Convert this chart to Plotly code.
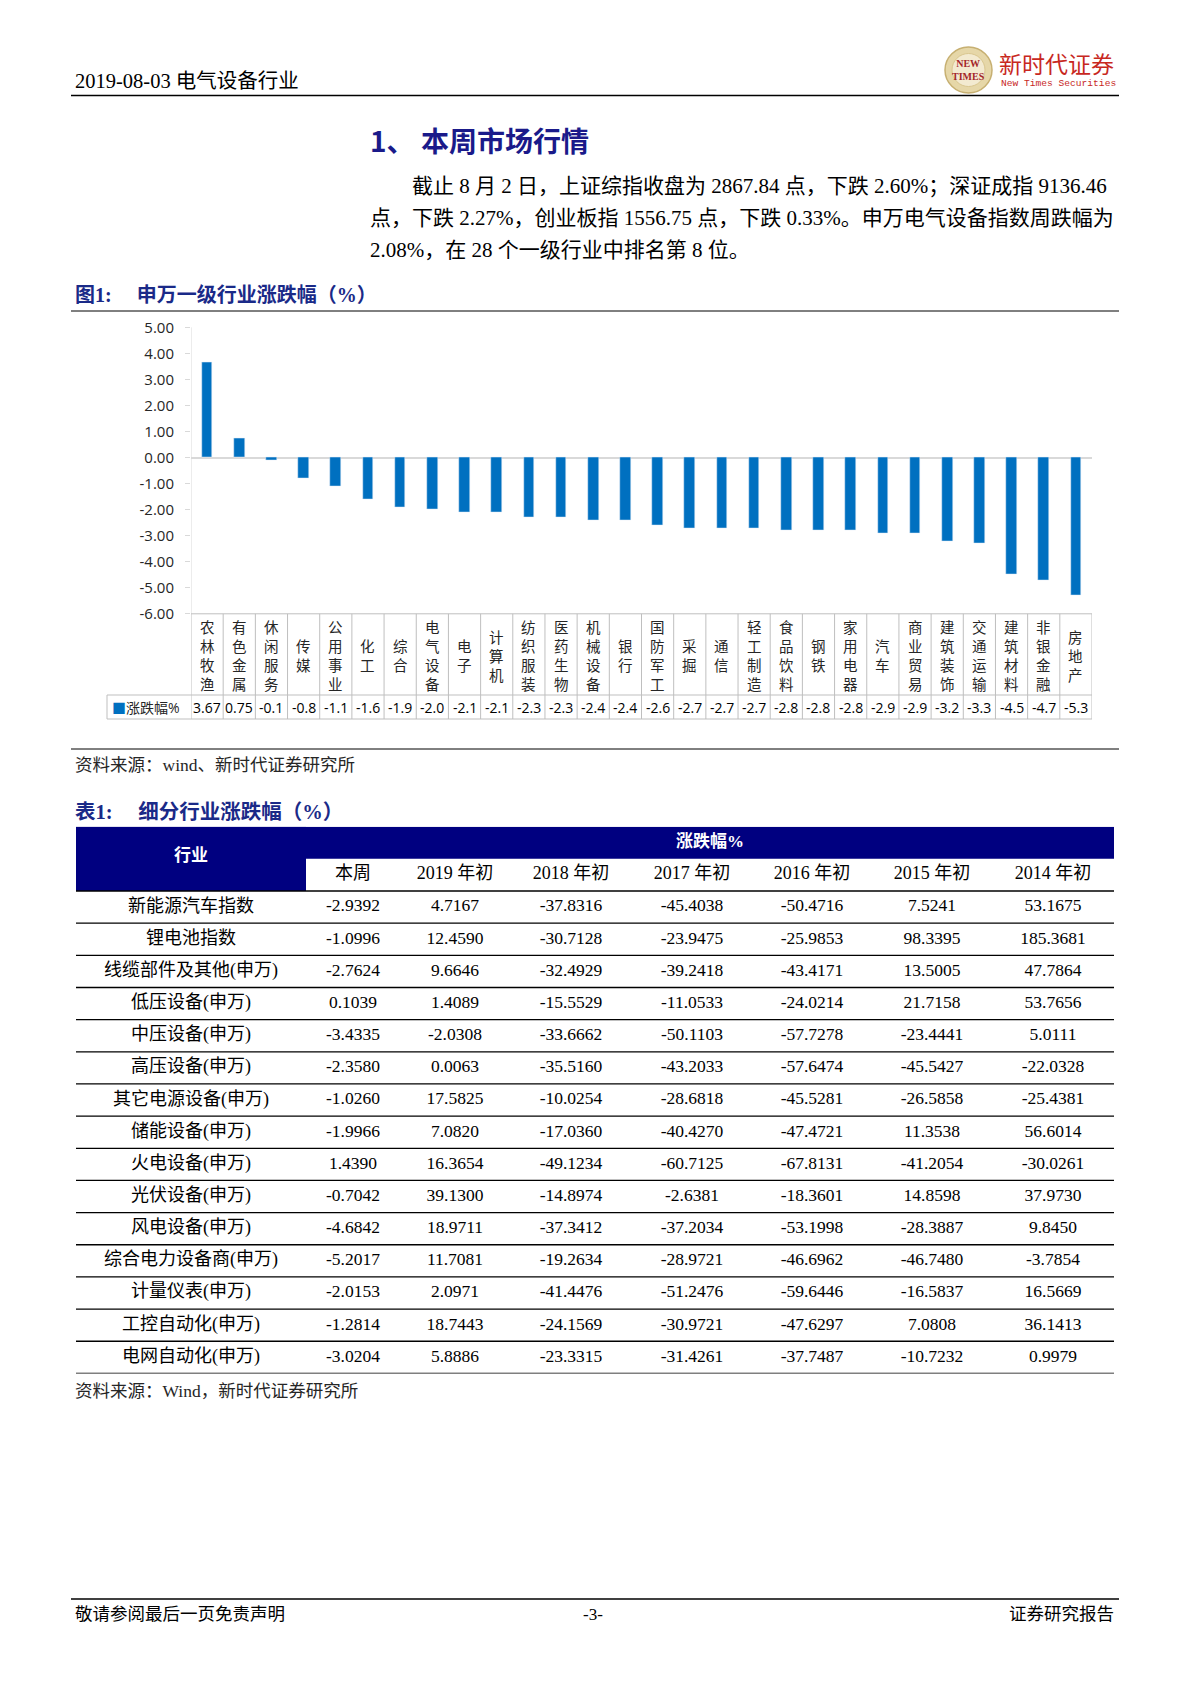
import plotly.graph_objects as go

W, H = 1190, 1683


def px(x):
    return x / W


def py(y):
    return 1 - y / H


# ---------------- data ----------------
categories = ["农林牧渔", "有色金属", "休闲服务", "传媒", "公用事业", "化工", "综合", "电气设备",
              "电子", "计算机", "纺织服装", "医药生物", "机械设备", "银行", "国防军工", "采掘",
              "通信", "轻工制造", "食品饮料", "钢铁", "家用电器", "汽车", "商业贸易", "建筑装饰",
              "交通运输", "建筑材料", "非银金融", "房地产"]
changes = [3.67, 0.75, -0.1, -0.8, -1.1, -1.6, -1.9, -2.0, -2.1, -2.1, -2.3, -2.3, -2.4, -2.4,
           -2.6, -2.7, -2.7, -2.7, -2.8, -2.8, -2.8, -2.9, -2.9, -3.2, -3.3, -4.5, -4.7, -5.3]
y_tick_values = [5, 4, 3, 2, 1, 0, -1, -2, -3, -4, -5, -6]
series_name = "涨跌幅%"

industries = ["新能源汽车指数", "锂电池指数", "线缆部件及其他(申万)", "低压设备(申万)", "中压设备(申万)",
              "高压设备(申万)", "其它电源设备(申万)", "储能设备(申万)", "火电设备(申万)", "光伏设备(申万)",
              "风电设备(申万)", "综合电力设备商(申万)", "计量仪表(申万)", "工控自动化(申万)", "电网自动化(申万)"]
period_headers = ["本周", "2019 年初", "2018 年初", "2017 年初", "2016 年初", "2015 年初", "2014 年初"]
chg_week = [-2.9392, -1.0996, -2.7624, 0.1039, -3.4335, -2.3580, -1.0260, -1.9966, 1.4390, -0.7042,
            -4.6842, -5.2017, -2.0153, -1.2814, -3.0204]
chg_2019 = [4.7167, 12.4590, 9.6646, 1.4089, -2.0308, 0.0063, 17.5825, 7.0820, 16.3654, 39.1300,
            18.9711, 11.7081, 2.0971, 18.7443, 5.8886]
chg_2018 = [-37.8316, -30.7128, -32.4929, -15.5529, -33.6662, -35.5160, -10.0254, -17.0360, -49.1234,
            -14.8974, -37.3412, -19.2634, -41.4476, -24.1569, -23.3315]
chg_2017 = [-45.4038, -23.9475, -39.2418, -11.0533, -50.1103, -43.2033, -28.6818, -40.4270, -60.7125,
            -2.6381, -37.2034, -28.9721, -51.2476, -30.9721, -31.4261]
chg_2016 = [-50.4716, -25.9853, -43.4171, -24.0214, -57.7278, -57.6474, -45.5281, -47.4721, -67.8131,
            -18.3601, -53.1998, -46.6962, -59.6446, -47.6297, -37.7487]
chg_2015 = [7.5241, 98.3395, 13.5005, 21.7158, -23.4441, -45.5427, -26.5858, 11.3538, -41.2054,
            14.8598, -28.3887, -46.7480, -16.5837, 7.0808, -10.7232]
chg_2014 = [53.1675, 185.3681, 47.7864, 53.7656, 5.0111, -22.0328, -25.4381, 56.6014, -30.0261,
            37.9730, 9.8450, -3.7854, 16.5669, 36.1413, 0.9979]
period_columns = [chg_week, chg_2019, chg_2018, chg_2017, chg_2016, chg_2015, chg_2014]

# ---------------- styles ----------------
SERIF = "Liberation Serif, 'Noto Sans CJK SC', serif"
CJK = "'Noto Sans CJK SC', sans-serif"
NAVY = "#000080"
TITLE_BLUE = "#1A2A88"
BAR_BLUE = "#0070C0"
GRID = "#BFBFBF"
RED = "#C8281E"

fig = go.Figure()

# ---------------- bar chart ----------------
plot_left, plot_right = 191, 1092
plot_top, plot_bottom = 327.3, 613.8
table_mid, table_bottom = 695, 719
legend_left = 107

fig.add_trace(go.Bar(x=categories, y=changes, marker_color=BAR_BLUE, width=0.33,
                     name=series_name, showlegend=False, xaxis="x", yaxis="y"))

annotations = []
shapes = []

# category labels (vertical stacked characters)
cat_center = (plot_bottom + table_mid) / 2 + 1
for cat in categories:
    annotations.append(dict(x=cat, y=py(cat_center), xref="x", yref="paper", text="<br>".join(cat),
                            showarrow=False, font=dict(family=CJK, size=14.5, color="#262626"),
                            xanchor="center", yanchor="middle"))
# value row
for cat, v in zip(categories, changes):
    annotations.append(dict(x=cat, y=py((table_mid + table_bottom) / 2), xref="x", yref="paper",
                            text=str(v), showarrow=False,
                            font=dict(family="'Open Sans', sans-serif", size=14, color="#000000"),
                            xanchor="center", yanchor="middle"))
annotations.append(dict(x=px(legend_left + 3), y=py((table_mid + table_bottom) / 2), xref="paper",
                        yref="paper", xanchor="left", yanchor="middle", showarrow=False,
                        text=f"<span style='color:{BAR_BLUE}'>■</span>{series_name}",
                        font=dict(family="'Open Sans', 'Noto Sans CJK SC', sans-serif", size=14,
                                  color="#262626")))

# data-table grid
for i in range(len(categories) + 1):
    shapes.append(dict(type="line", xref="x", yref="paper", x0=i - 0.5, x1=i - 0.5,
                       y0=py(plot_bottom), y1=py(table_bottom), line=dict(color=GRID, width=1)))
shapes.append(dict(type="line", xref="x", yref="paper", x0=-0.5, x1=-0.5,
                   y0=py(plot_top), y1=py(plot_bottom), line=dict(color="#D9D9D9", width=1)))
shapes.append(dict(type="line", xref="paper", yref="paper", x0=px(plot_left), x1=px(plot_right),
                   y0=py(plot_bottom), y1=py(plot_bottom), line=dict(color=GRID, width=1)))
for yy in (table_mid, table_bottom):
    shapes.append(dict(type="line", xref="paper", yref="paper", x0=px(legend_left), x1=px(plot_right),
                       y0=py(yy), y1=py(yy), line=dict(color=GRID, width=1)))
shapes.append(dict(type="line", xref="paper", yref="paper", x0=px(legend_left), x1=px(legend_left),
                   y0=py(table_mid), y1=py(table_bottom), line=dict(color=GRID, width=1)))

# ---------------- sub-industry table ----------------
col_widths = [230, 94, 110, 122, 120, 120, 120, 122]
tbl_left = 76
tbl_total = sum(col_widths)
row_h = 32.16
tbl_bottom = 1373.4
n_rows = len(industries)
tbl_top = tbl_bottom - (n_rows + 2) * row_h
edges = [0]
for w in col_widths:
    edges.append(edges[-1] + w)
centers = [(edges[i] + edges[i + 1]) / 2 for i in range(len(col_widths))]

shapes.append(dict(type="rect", xref="x2", yref="y2", x0=0, x1=tbl_total, y0=-2.5, y1=-1.5,
                   fillcolor=NAVY, line=dict(width=0), layer="below"))
shapes.append(dict(type="rect", xref="x2", yref="y2", x0=0, x1=col_widths[0], y0=-2.5, y1=-0.5,
                   fillcolor=NAVY, line=dict(width=0), layer="below"))
for r in range(-1, n_rows):
    shapes.append(dict(type="line", xref="x2", yref="y2", x0=0, x1=tbl_total, y0=r + 0.5, y1=r + 0.5,
                       line=dict(color="#000000", width=1.3)))

rows = list(range(n_rows))
fig.add_trace(go.Scatter(x=[centers[0]] * n_rows, y=rows, text=industries, mode="text",
                         textfont=dict(family=SERIF, size=18, color="#000000"),
                         xaxis="x2", yaxis="y2", showlegend=False, hoverinfo="skip"))
for j, col in enumerate(period_columns):
    fig.add_trace(go.Scatter(x=[centers[j + 1]] * n_rows, y=rows, text=[f"{v:.4f}" for v in col],
                             mode="text", textfont=dict(family=SERIF, size=17.5, color="#000000"),
                             xaxis="x2", yaxis="y2", showlegend=False, hoverinfo="skip"))
fig.add_trace(go.Scatter(x=centers[1:], y=[-1] * len(period_headers), text=period_headers, mode="text",
                         textfont=dict(family=SERIF, size=18, color="#000000"),
                         xaxis="x2", yaxis="y2", showlegend=False, hoverinfo="skip"))
fig.add_trace(go.Scatter(x=[centers[0], (edges[1] + edges[-1]) / 2], y=[-1.55, -2],
                         text=["<b>行业</b>", "<b>涨跌幅%</b>"], mode="text",
                         textfont=dict(family=SERIF, size=17, color="#FFFFFF"),
                         xaxis="x2", yaxis="y2", showlegend=False, hoverinfo="skip"))


# ---------------- page text ----------------
def note(x, y, text, size, color="#000000", family=SERIF, anchor="left"):
    annotations.append(dict(x=px(x), y=py(y), xref="paper", yref="paper", text=text, showarrow=False,
                            xanchor=anchor, yanchor="middle", font=dict(family=family, size=size,
                                                                         color=color)))


def hline(y, x0=71, x1=1119, width=1.0):
    shapes.append(dict(type="line", xref="paper", yref="paper", x0=px(x0), x1=px(x1), y0=py(y), y1=py(y),
                       line=dict(color="#000000", width=width)))


note(73, 81, "2019-08-03 电气设备行业", 20.5)
hline(95.5, width=1.5)
# logo
shapes.append(dict(type="circle", xref="paper", yref="paper", x0=px(945), x1=px(992), y0=py(93),
                   y1=py(47), fillcolor="#E6D7A8", line=dict(color="#C7B072", width=1.5)))
shapes.append(dict(type="circle", xref="paper", yref="paper", x0=px(952), x1=px(985), y0=py(86.5),
                   y1=py(53.5), fillcolor="#F3EAD0", line=dict(color="#D9C68F", width=1)))
note(968.5, 70, "<b>NEW<br>TIMES</b>", 10, color="#A3262A", family="Liberation Serif", anchor="center")
note(997, 63, "新时代证券", 23, color=RED, family=CJK)
note(999, 83, "New Times Securities", 9.6, color=RED, family="Liberation Mono")

note(368, 140, "<b>1、 本周市场行情</b>", 28, color="#1A1A8A", family=CJK)
note(410, 186, "截止 8 月 2 日，上证综指收盘为 2867.84 点，下跌 2.60%；深证成指 9136.46", 21)
note(368, 218, "点，下跌 2.27%，创业板指 1556.75 点，下跌 0.33%。申万电气设备指数周跌幅为", 21)
note(368, 250, "2.08%，在 28 个一级行业中排名第 8 位。", 21)

note(73, 295, "<b>图1:     申万一级行业涨跌幅（%）</b>", 20, color=TITLE_BLUE)
hline(311)
hline(749)
note(73, 765, "资料来源：wind、新时代证券研究所", 17.5, color="#262626")
note(73, 812, "<b>表1:     细分行业涨跌幅（%）</b>", 20.5, color=TITLE_BLUE)
note(73, 1391, "资料来源：Wind，新时代证券研究所", 17.5, color="#262626")

hline(1599, width=1.5)
note(73, 1614, "敬请参阅最后一页免责声明", 17.5)
note(593, 1614, "-3-", 17, anchor="center")
note(1116, 1614, "证券研究报告", 17.5, anchor="right")

fig.update_layout(
    width=W, height=H, margin=dict(l=0, r=0, t=0, b=0, pad=0, autoexpand=False),
    paper_bgcolor="#FFFFFF", plot_bgcolor="rgba(0,0,0,0)",
    showlegend=False, bargap=0,
    xaxis=dict(domain=[px(plot_left), px(plot_right)], type="category", range=[-0.5, len(categories) - 0.5],
               showticklabels=False, showgrid=False, zeroline=False, showline=False, ticks="",
               automargin=False, fixedrange=True),
    yaxis=dict(domain=[py(plot_bottom), py(plot_top)], range=[-6, 5], tickvals=y_tick_values,
               ticktext=[f"{v:.2f}" for v in y_tick_values], automargin=False, fixedrange=True,
               showgrid=False, zeroline=True, zerolinecolor="#D9D9D9", zerolinewidth=1.5,
               showline=False, ticks="outside", ticklen=5, tickcolor="#D9D9D9",
               ticklabelstandoff=8,
               tickfont=dict(family="'Open Sans', sans-serif", size=15, color="#262626")),
    xaxis2=dict(domain=[px(tbl_left), px(tbl_left + tbl_total)], range=[0, tbl_total], visible=False,
                anchor="y2", automargin=False, fixedrange=True),
    yaxis2=dict(domain=[py(tbl_bottom), py(tbl_top)], range=[n_rows - 0.5, -2.5], visible=False,
                anchor="x2", automargin=False, fixedrange=True),
    annotations=annotations, shapes=shapes,
)

fig.write_html("out.html", config={"displayModeBar": False},
               post_script="document.body.style.margin='0px';")
